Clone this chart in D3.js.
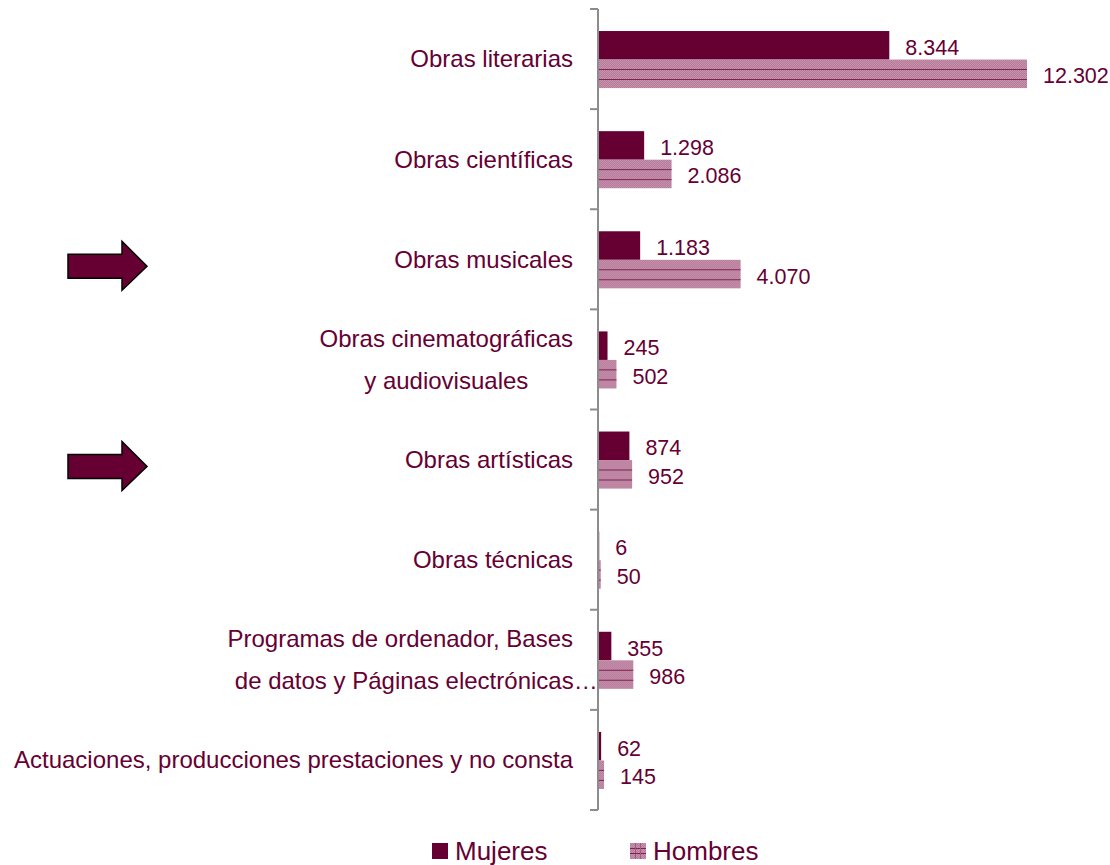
<!DOCTYPE html>
<html>
<head>
<meta charset="utf-8">
<script src="https://cdn.jsdelivr.net/npm/d3@7"></script>
<style>
  body { margin: 0; background: #fff; }
  svg { font-family: "Liberation Sans", Arial, sans-serif; }
</style>
</head>
<body>
<svg width="1110" height="865"></svg>
<script>
var categories = [
  ["Obras literarias"],
  ["Obras científicas"],
  ["Obras musicales"],
  ["Obras cinematográficas", "y audiovisuales"],
  ["Obras artísticas"],
  ["Obras técnicas"],
  ["Programas de ordenador, Bases", "de datos y Páginas electrónicas…"],
  ["Actuaciones, producciones prestaciones y no consta"]
];
var mujeres = [8344, 1298, 1183, 245, 874, 6, 355, 62];
var hombres = [12302, 2086, 4070, 502, 952, 50, 986, 145];
var seriesNames = ["Mujeres", "Hombres"];
var arrowCats = [2, 4];

var svg = d3.select("svg");
var maroon = "#660033";
var fmt = function(v) { return d3.format(",")(v).replace(/,/g, "."); };

var keys = categories.map(function(d, i) { return i; });

var y = d3.scaleBand().domain(keys).range([9, 810]);
var ySub = d3.scaleBand().domain(seriesNames).range([y.bandwidth() * 0.22, y.bandwidth() * 0.79]);
var x = d3.scaleLinear().domain([0, d3.max(hombres)]).range([599, 1027]);

// hatch pattern for Hombres
var defs = svg.append("defs");
var pat = defs.append("pattern").attr("id", "chk")
  .attr("width", 2).attr("height", 2).attr("patternUnits", "userSpaceOnUse");
pat.append("rect").attr("width", 2).attr("height", 2).attr("fill", "#c692ad");
pat.append("rect").attr("width", 1).attr("height", 1).attr("fill", "#b67a99");
pat.append("rect").attr("x", 1).attr("y", 1).attr("width", 1).attr("height", 1).attr("fill", "#b67a99");

var data = keys.map(function(i) {
  return [
    { cat: i, s: "Mujeres", v: mujeres[i] },
    { cat: i, s: "Hombres", v: hombres[i] }
  ];
});

var g = svg.append("g");
var groups = g.selectAll("g.cat").data(data).enter().append("g")
  .attr("class", "cat")
  .attr("transform", function(d, i) { return "translate(0," + y(i) + ")"; });

groups.selectAll("rect").data(function(d) { return d; }).enter().append("rect")
  .attr("x", x(0))
  .attr("y", function(d) { return ySub(d.s); })
  .attr("width", function(d) { return x(d.v) - x(0); })
  .attr("height", ySub.bandwidth())
  .attr("fill", function(d) { return d.s == "Mujeres" ? maroon : "url(#chk)"; });

// horizontal lines inside the Hombres bars
groups.each(function(d) {
  var h = d[1];
  var sel = d3.select(this);
  [1 / 3, 2 / 3].forEach(function(f) {
    var yy = Math.round(ySub(h.s) + ySub.bandwidth() * f) + 0.5;
    sel.append("line")
      .attr("x1", x(0)).attr("x2", x(h.v))
      .attr("y1", yy).attr("y2", yy)
      .attr("stroke", "#7d2350").attr("stroke-width", 1);
  });
});

// value labels
groups.selectAll("text.val").data(function(d) { return d; }).enter().append("text")
  .attr("class", "val")
  .attr("x", function(d) { return x(d.v) + 16; })
  .attr("y", function(d) { return ySub(d.s) + ySub.bandwidth() / 2 + 2; })
  .attr("dy", "0.35em")
  .attr("fill", maroon)
  .attr("font-size", 21.5)
  .text(function(d) { return fmt(d.v); });

// axis
var axis = svg.append("g");
axis.append("line")
  .attr("x1", 598).attr("x2", 598).attr("y1", 9).attr("y2", 810)
  .attr("stroke", "#8c8c8c").attr("stroke-width", 2);
var tickYs = keys.map(function(i) { return y(i); }).concat([y.range()[1]]);
axis.selectAll("line.tick").data(tickYs).enter().append("line")
  .attr("class", "tick")
  .attr("x1", 590).attr("x2", 598)
  .attr("y1", function(d) { return d; }).attr("y2", function(d) { return d; })
  .attr("stroke", "#8c8c8c").attr("stroke-width", 2);

// category labels
var labels = svg.append("g").selectAll("text").data(categories).enter().append("text")
  .attr("fill", maroon)
  .attr("font-size", 24);
labels.each(function(lines, i) {
  var t = d3.select(this);
  var cy = y(i) + y.bandwidth() / 2;
  if (lines.length == 1) {
    t.attr("text-anchor", "end").attr("x", 573).attr("y", cy).attr("dy", "0.35em").text(lines[0]);
  } else {
    t.attr("text-anchor", "middle");
    var spans = t.selectAll("tspan").data(lines).enter().append("tspan")
      .attr("y", function(d, k) { return cy - 21 + k * 42; })
      .attr("dy", "0.35em")
      .text(function(d) { return d; });
    var w = spans.nodes()[0].getComputedTextLength();
    // truncated (ellipsis) second line overhangs to the right
    spans.attr("x", function(d, k) {
      var shift = (k == 1 && /…$/.test(d)) ? 16 : 0;
      return 573 - w / 2 + shift;
    });
  }
});

// arrows
var arrowPath = "M0,-12 L54,-12 L54,-25 L79,0 L54,24 L54,12 L0,12 Z";
svg.append("g").selectAll("path").data(arrowCats).enter().append("path")
  .attr("d", arrowPath)
  .attr("transform", function(i) { return "translate(68," + (y(i) + y.bandwidth() / 2 + 7) + ")"; })
  .attr("fill", maroon)
  .attr("stroke", "#000")
  .attr("stroke-width", 1.5);

// legend
var legend = svg.append("g");
var legX = [432, 630];
seriesNames.forEach(function(s, i) {
  var lg = legend.append("g").attr("transform", "translate(" + legX[i] + ",843)");
  lg.append("rect").attr("width", 16).attr("height", 16)
    .attr("fill", s == "Mujeres" ? maroon : "url(#chk)");
  if (s == "Hombres") {
    [5.5, 10.5].forEach(function(p) {
      lg.append("line").attr("x1", 0).attr("x2", 16).attr("y1", p).attr("y2", p).attr("stroke", "#7d2350");
      lg.append("line").attr("y1", 0).attr("y2", 16).attr("x1", p).attr("x2", p).attr("stroke", "#a05a80");
    });
  }
  lg.append("text").attr("x", 23).attr("y", 7).attr("dy", "0.38em")
    .attr("fill", maroon).attr("font-size", 26).text(s);
});
</script>
</body>
</html>
